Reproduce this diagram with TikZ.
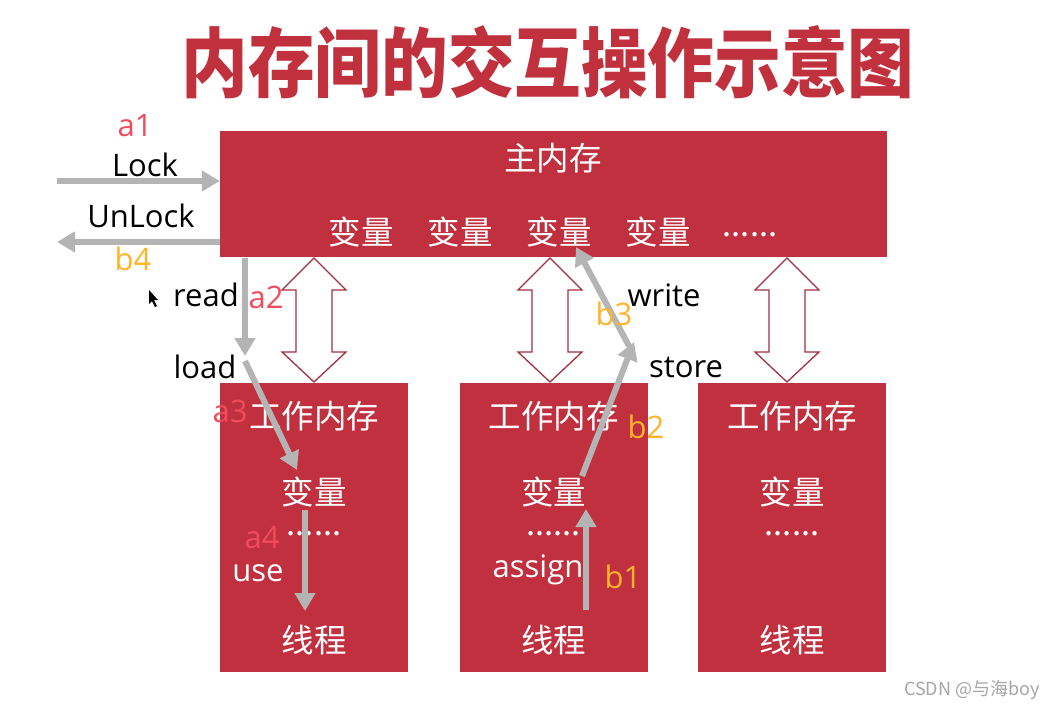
\documentclass[tikz,border=0pt]{standalone}
\usepackage{fontspec}
\setmainfont{Noto Sans CJK SC}
\newfontfamily\latinf{Open Sans}
\usetikzlibrary{arrows.meta}
\definecolor{cred}{HTML}{C1303E}
\definecolor{ctitle}{HTML}{C0313D}
\definecolor{lred}{HTML}{F04C5C}
\definecolor{lorange}{HTML}{FFB428}
\definecolor{cgray}{HTML}{B4B4B4}
\definecolor{dark}{HTML}{A23040}
\tikzset{
  membox/.style={fill=cred, draw=none, inner sep=0},
  wtext/.style={text=white, font=\fontsize{32.5}{34}\selectfont, inner sep=0},
  wlat/.style={text=white, font=\latinf\fontsize{31}{33}\selectfont, inner sep=0},
  btext/.style={text=black, font=\latinf\fontsize{31}{33}\selectfont, inner sep=0},
  rlab/.style={text=lred, font=\latinf\fontsize{31}{33}\selectfont, inner sep=0},
  olab/.style={text=lorange, font=\latinf\fontsize{31}{33}\selectfont, inner sep=0},
  garrow/.style={draw=cgray, line width=6pt, -{Triangle[width=20pt,length=18pt]}},
  dblarrow/.style={draw=dark, fill=white, line width=1.3pt, line join=miter},
}
\begin{document}
\begin{tikzpicture}[x=1pt,y=-1pt]
\useasboundingbox (0,0) rectangle (1050,707);
\fill[white] (0,0) rectangle (1050,707);
% title
\node[text=ctitle, inner sep=0] (title) at (548,62) {\scalebox{1.01}[1.15]{\fontsize{66}{70}\selectfont\bfseries 内存间的交互操作示意图}};
% main memory
\node[membox, minimum width=667pt, minimum height=126pt] (main) at (553.5,194) {};
\node[wtext] (mainlbl) at (553,158) {主内存};
\node[wtext] (mv1) at (361,232) {变量};
\node[wtext] (mv2) at (460,232) {变量};
\node[wtext] (mv3) at (559,232) {变量};
\node[wtext] (mv4) at (658,232) {变量};
\node[wtext] (mdots) at (750,235) {......};
% working memories
\foreach \i/\c in {1/314, 2/553.5, 3/792}{
  \node[membox, minimum width=188pt, minimum height=289pt] (w\i) at (\c,527.5) {};
  \node[wtext] (wl\i) at (\c,416) {工作内存};
  \node[wtext] (wv\i) at (\c,492) {变量};
  \node[wtext] (wd\i) at (\c,534) {......};
  \node[wtext] (wt\i) at (\c,640) {线程};
}
% double arrows
\foreach \c in {314,550,787}{
  \draw[dblarrow] (\c,258) -- (\c+32,290) -- (\c+18,290) -- (\c+18,352) -- (\c+32,352) -- (\c,382)
    -- (\c-32,352) -- (\c-18,352) -- (\c-18,290) -- (\c-32,290) -- cycle;
}
% coordinates
\coordinate (lockS) at (57,181);
\coordinate (unlockE) at (57,242);
\coordinate (readS) at (245,258);
\coordinate (readE) at (245,356);
\coordinate (loadS) at (245,361);
\coordinate (loadE) at (297,470);
\coordinate (useS) at (305,510);
\coordinate (useE) at (305,611);
\coordinate (asgS) at (586,610);
\coordinate (asgE) at (586,509);
\coordinate (stoS) at (582,476);
\coordinate (stoE) at (634,342);
\coordinate (wrS) at (629,346);
\coordinate (wrE) at (576,247);
% gray arrows
\draw[garrow] (lockS) -- (main.west |- lockS);
\draw[garrow] (main.west |- unlockE) -- (unlockE);
\draw[garrow] (readS) -- (readE);
\draw[garrow] (loadS) -- (loadE);
\draw[garrow] (useS) -- (useE);
\draw[garrow] (asgS) -- (asgE);
\draw[garrow] (stoS) -- (stoE);
\draw[garrow] (wrS) -- (wrE);
% labels
\node[rlab] (a1) at (135,126) {a1};
\node[btext] (lock) at (145,165) {Lock};
\node[btext] (unlock) at (141,216) {UnLock};
\node[olab] (b4) at (133,259) {b4};
\node[btext] (read) at (206,295) {read};
\node[rlab] (a2) at (266,297) {a2};
\node[btext] (load) at (205,367) {load};
\node[rlab] (a3) at (230,411) {a3};
\node[rlab] (a4) at (262,538) {a4};
\node[wlat] (use) at (258,573) {use};
\node[wlat] (assign) at (538,570) {assign};
\node[olab] (b1) at (623,577) {b1};
\node[btext] (store) at (686,367) {store};
\node[olab] (b2) at (646,427) {b2};
\node[btext] (write) at (664,295) {write};
\node[olab] (b3) at (614,314) {b3};
% cursor
\fill[black] (149,290) -- (149,304) -- (152,301) -- (155,307) -- (157,306) -- (154,300) -- (158,300) -- cycle;
% watermark
\node[text=gray!70, font=\fontsize{18}{20}\selectfont, inner sep=0] (wm) at (972,690) {CSDN @与海boy};
\end{tikzpicture}
\end{document}
